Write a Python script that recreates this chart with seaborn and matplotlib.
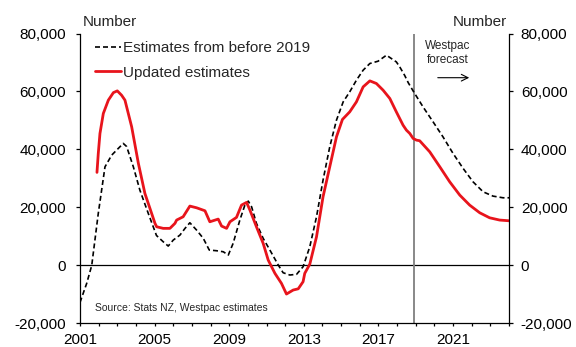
import matplotlib
matplotlib.use("Agg")
import matplotlib.pyplot as plt
import seaborn as sns
import pandas as pd
import numpy as np

# ---- data (decimal years, number) ----
old_years = [2001.0, 2001.36, 2001.63, 2001.98, 2002.34, 2002.7, 2003.0, 2003.32, 2003.5,
             2003.86, 2004.21, 2004.66, 2005.1, 2005.46, 2005.73, 2006.0, 2006.36, 2006.63,
             2006.89, 2007.25, 2007.61, 2007.93, 2008.32, 2008.68, 2008.95, 2009.21, 2009.57,
             2009.84, 2010.02, 2010.2, 2010.46, 2010.82, 2011.18, 2011.63, 2011.89, 2012.25,
             2012.61, 2012.96, 2013.32, 2013.68, 2014.03, 2014.39, 2014.75, 2015.11, 2015.46,
             2015.82, 2016.18, 2016.54, 2016.98, 2017.43, 2017.96, 2018.14, 2018.41, 2018.6,
             2018.89, 2019.39, 2019.93, 2020.46, 2021.0, 2021.54, 2022.07, 2022.61, 2023.14,
             2023.68, 2024.0]
old_values = [-12800, -6200, 0, 17930, 34000, 38030, 40000, 42070, 41000,
              34000, 25960, 17930, 10300, 8140, 6650, 8720, 10450, 12760,
              14690, 12170, 9310, 5280, 5040, 4690, 3550, 7590, 15620,
              20790, 22170, 20200, 14480, 9310, 5280, 100, -2550, -3340,
              -3100, -480, 6410, 16760, 29410, 40900, 50100, 56410, 59860,
              63890, 67340, 69650, 70440, 72510, 70200, 68500, 65500, 63000,
              59860, 54690, 49510, 44340, 38620, 33450, 28830, 25380, 23890,
              23310, 23310]

new_years = [2001.91, 2001.98, 2002.07, 2002.25, 2002.52, 2002.79, 2003.0, 2003.23, 2003.41,
             2003.77, 2004.13, 2004.48, 2004.75, 2005.02, 2005.11, 2005.46, 2005.82, 2006.09,
             2006.18, 2006.53, 2006.89, 2007.25, 2007.7, 2007.96, 2008.41, 2008.59, 2008.86,
             2009.04, 2009.39, 2009.66, 2009.93, 2010.11, 2010.46, 2010.82, 2011.09, 2011.45,
             2011.8, 2012.07, 2012.43, 2012.7, 2012.96, 2013.05, 2013.32, 2013.68, 2014.03,
             2014.39, 2014.75, 2015.07, 2015.46, 2015.82, 2016.18, 2016.54, 2016.89, 2017.25,
             2017.61, 2017.96, 2018.32, 2018.5, 2018.68, 2018.86, 2019.04, 2019.21, 2019.75,
             2020.29, 2020.82, 2021.36, 2021.89, 2022.43, 2022.96, 2023.5, 2024.0]
new_values = [32070, 38600, 45500, 52400, 57000, 59600, 60200, 58700, 57000,
              47800, 35170, 24800, 19650, 14480, 13310, 12760, 12760, 14480,
              15620, 16760, 20450, 19860, 18830, 15030, 15960, 13550, 12760,
              15030, 16550, 20790, 21720, 19070, 13310, 7590, 1830, -2760,
              -6210, -9900, -8520, -8100, -5650, -2760, 400, 9860, 23650,
              34000, 44340, 50340, 52960, 56410, 61580, 63650, 62750, 60440,
              57580, 52960, 48370, 46650, 45510, 43790, 43200, 43000, 39170,
              34000, 28830, 24240, 20790, 18140, 16410, 15620, 15380]

series_labels = ["Estimates from before 2019", "Updated estimates"]
year_ticks = list(range(2001, 2025))
year_labels = [str(y) if (y - 2001) % 4 == 0 else "" for y in year_ticks]
y_ticks = [-20000, 0, 20000, 40000, 60000, 80000]
y_labels = ["-20,000", "0", "20,000", "40,000", "60,000", "80,000"]
forecast_start = 2018.9

# ---- plotting ----
sns.set_theme(style="white")
plt.rcParams["font.family"] = ["Liberation Sans", "DejaVu Sans"]

W, H = 576, 347
fig = plt.figure(figsize=(W / 100, H / 100), dpi=100)
L, R, T, B = 80, 509, 33.5, 323.3
ax = fig.add_axes([L / W, 1 - B / H, (R - L) / W, (B - T) / H])

old_df = pd.DataFrame({"year": old_years, "value": old_values})
new_df = pd.DataFrame({"year": new_years, "value": new_values})

red = "#E8141C"
sns.lineplot(data=old_df, x="year", y="value", ax=ax, color="black",
             linewidth=1.2, label=series_labels[0])
ax.lines[-1].set_linestyle((0, (3, 1.8)))
sns.lineplot(data=new_df, x="year", y="value", ax=ax, color=red,
             linewidth=2.0, label=series_labels[1])

ax.axhline(0, color="black", linewidth=0.9, zorder=1)
ax.axvline(forecast_start, color="#7f7f7f", linewidth=1.3, zorder=1)

ax.set_xlim(2001, 2024)
ax.set_ylim(-20000, 80000)
ax.set_xticks(year_ticks)
ax.set_xticklabels(year_labels)
ax.set_yticks(y_ticks)
ax.set_yticklabels(y_labels)
ax.set_xlabel("")
ax.set_ylabel("")

for s in ["top", "right"]:
    ax.spines[s].set_visible(False)
for s in ["left", "bottom"]:
    ax.spines[s].set_color("black")
    ax.spines[s].set_linewidth(0.9)

ax.tick_params(axis="y", which="both", left=True, length=3, width=0.9,
               color="black", labelsize=11, pad=7, labelcolor="black")
ax.tick_params(axis="x", which="both", bottom=True, length=2, width=0.9,
               color="black", labelsize=11, pad=5, labelcolor="black")

ax2 = ax.twinx()
ax2.set_ylim(-20000, 80000)
ax2.set_yticks(y_ticks)
ax2.set_yticklabels(y_labels)
for s in ["top", "left", "bottom"]:
    ax2.spines[s].set_visible(False)
ax2.spines["right"].set_color("black")
ax2.spines["right"].set_linewidth(0.9)
ax2.tick_params(axis="y", right=True, length=3, width=0.9, color="black",
                labelsize=11, pad=5.5, labelcolor="black")
ax2.grid(False)
ax.grid(False)

leg = ax.legend(loc="upper left", bbox_to_anchor=(0.02, 0.995), frameon=False,
                fontsize=11, handlelength=1.7, handletextpad=0.15,
                labelspacing=0.7, borderaxespad=0)

# texts
fig.text(83 / W, 1 - 22 / H, "Number", fontsize=11, va="center", ha="left")
fig.text(507 / W, 1 - 22 / H, "Number", fontsize=11, va="center", ha="right")
ax.text((448 - L) / (R - L), (B - 53) / (B - T), "Westpac\nforecast",
        transform=ax.transAxes, fontsize=8.5, ha="center", va="center",
        linespacing=1.3)
ax.annotate("", xy=((472 - L) / (R - L), (B - 77.7) / (B - T)),
            xytext=((435 - L) / (R - L), (B - 77.7) / (B - T)),
            xycoords="axes fraction", textcoords="axes fraction",
            arrowprops=dict(arrowstyle="->", color="black", lw=0.8))
ax.text((95 - L) / (R - L), (B - 307.7) / (B - T),
        "Source: Stats NZ, Westpac estimates", transform=ax.transAxes,
        fontsize=7.5, ha="left", va="center")

fig.savefig("out.png", dpi=100)
